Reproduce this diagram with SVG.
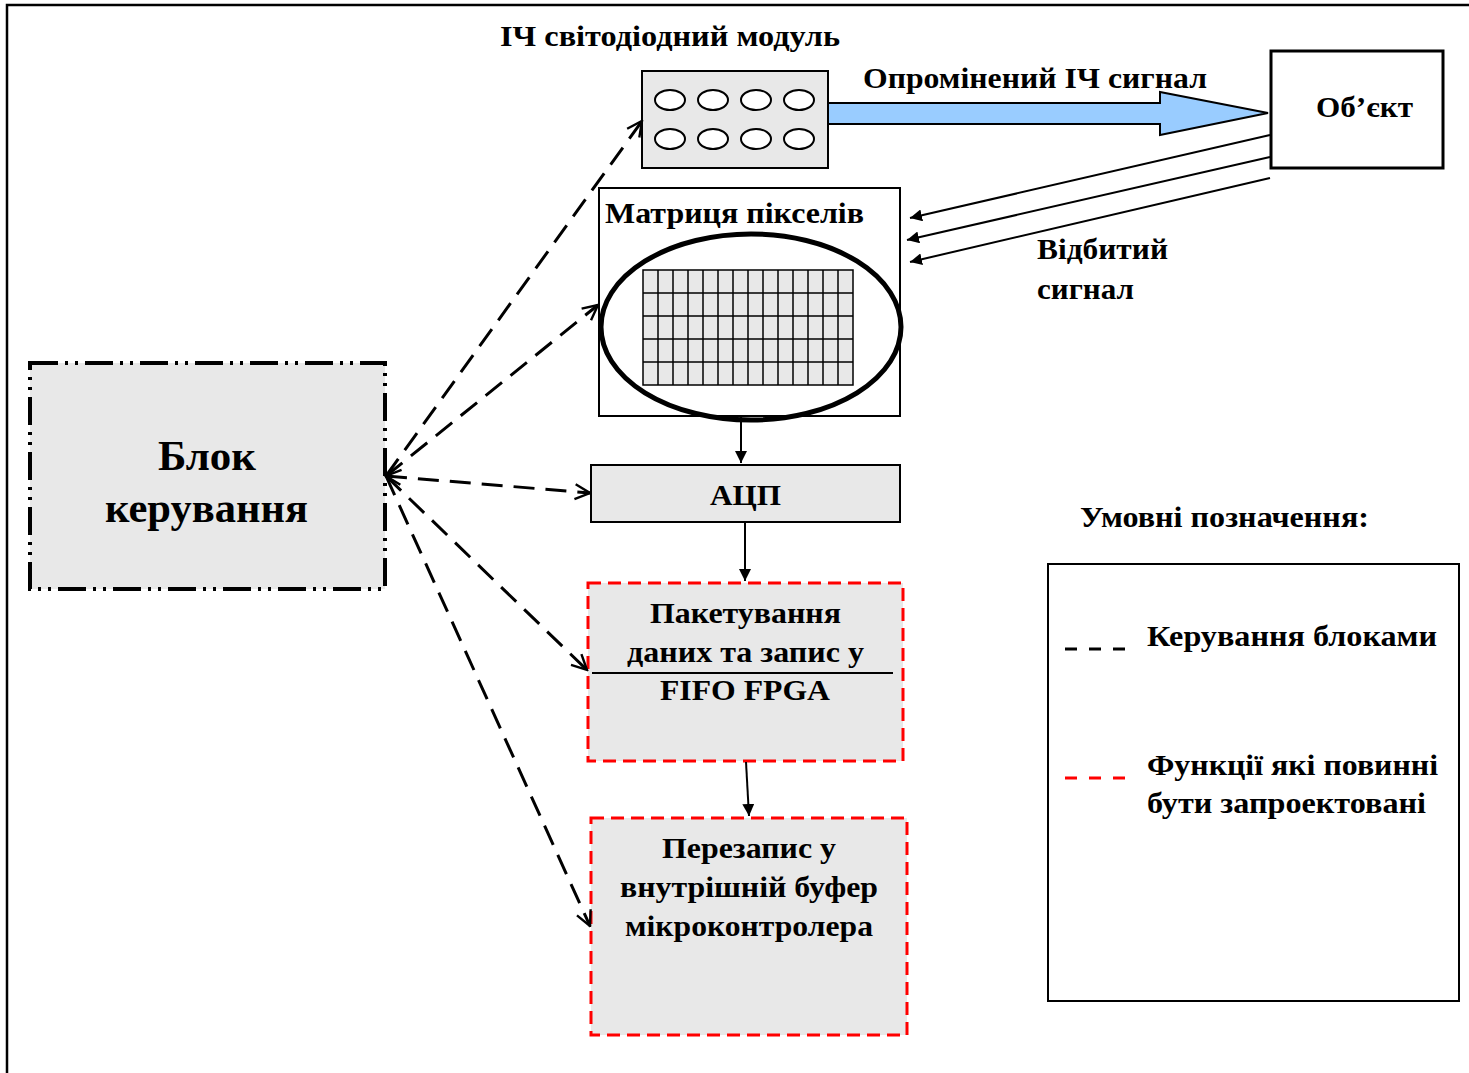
<svg xmlns="http://www.w3.org/2000/svg" width="1469" height="1073" viewBox="0 0 1469 1073">
<style>
  text { font-family: "Liberation Serif", "Times New Roman", serif; font-weight: bold; fill: #000; }
  .t28 { font-size: 29px; }
  .t42 { font-size: 42px; }
  .box { fill: #e8e8e8; stroke: #000; stroke-width: 2; }
  .red { fill: #e8e8e8; stroke: #ff0000; stroke-width: 3; stroke-dasharray: 13 7; }
  .ctl { fill: none; stroke: #000; stroke-width: 3; stroke-dasharray: 21 11; }
  .sol { fill: none; stroke: #000; stroke-width: 2; }
  .led { fill: #fff; stroke: #000; stroke-width: 2; }
</style>
<defs>
  <marker id="fill" viewBox="0 0 10 10" refX="10" refY="5" markerWidth="6" markerHeight="6" markerUnits="strokeWidth" orient="auto-start-reverse">
    <path d="M0,0 L10,5 L0,10 z" fill="#000"/>
  </marker>
  <marker id="open" viewBox="0 0 12 12" refX="11" refY="6" markerWidth="6" markerHeight="6" markerUnits="strokeWidth" orient="auto-start-reverse">
    <path d="M1,1 L11,6 L1,11" fill="none" stroke="#000" stroke-width="1.6"/>
  </marker>
</defs>
<rect width="1469" height="1073" fill="#fff"/>
<path d="M7,1073 V5 H1469" fill="none" stroke="#000" stroke-width="2.5"/>

<g id="led-module">
  <text class="t28" x="500" y="46" textLength="340" lengthAdjust="spacingAndGlyphs">ІЧ світодіодний модуль</text>
  <rect class="box" x="642" y="71" width="186" height="97"/>
  <ellipse class="led" cx="670" cy="100" rx="15" ry="10"/>
  <ellipse class="led" cx="713" cy="100" rx="15" ry="10"/>
  <ellipse class="led" cx="756" cy="100" rx="15" ry="10"/>
  <ellipse class="led" cx="799" cy="100" rx="15" ry="10"/>
  <ellipse class="led" cx="670" cy="139" rx="15" ry="10"/>
  <ellipse class="led" cx="713" cy="139" rx="15" ry="10"/>
  <ellipse class="led" cx="756" cy="139" rx="15" ry="10"/>
  <ellipse class="led" cx="799" cy="139" rx="15" ry="10"/>
</g>

<g id="object">
  <rect x="1271" y="51" width="172" height="117" fill="#fff" stroke="#000" stroke-width="3"/>
  <text class="t28" x="1316" y="117" textLength="97" lengthAdjust="spacingAndGlyphs">Об’єкт</text>
</g>

<g id="matrix">
  <rect x="599" y="188" width="301" height="228" fill="#fff" stroke="#000" stroke-width="2"/>
  <text class="t28" x="605" y="223" textLength="259" lengthAdjust="spacingAndGlyphs">Матриця пікселів</text>
  <rect x="643" y="270" width="210" height="115" fill="#e8e8e8" stroke="#000" stroke-width="1.5"/>
  <path d="M658,270V385M673,270V385M688,270V385M703,270V385M718,270V385M733,270V385M748,270V385M763,270V385M778,270V385M793,270V385M808,270V385M823,270V385M838,270V385M643,293H853M643,316H853M643,339H853M643,362H853" stroke="#000" stroke-width="1.5" fill="none"/>
  <ellipse cx="751" cy="327" rx="150" ry="93" fill="none" stroke="#000" stroke-width="5"/>
</g>

<g id="adc">
  <rect class="box" x="591" y="465" width="309" height="57"/>
  <text class="t28" x="710" y="505" textLength="71" lengthAdjust="spacingAndGlyphs">АЦП</text>
</g>

<g id="packing">
  <rect class="red" x="588" y="583" width="315" height="178"/>
  <text class="t28" x="650" y="623" textLength="191" lengthAdjust="spacingAndGlyphs">Пакетування</text>
  <text class="t28" x="627" y="662" textLength="237" lengthAdjust="spacingAndGlyphs">даних та запис у</text>
  <line x1="592" y1="673" x2="893" y2="673" stroke="#000" stroke-width="2"/>
  <text class="t28" x="660" y="700" textLength="170" lengthAdjust="spacingAndGlyphs">FIFO FPGA</text>
</g>

<g id="buffer">
  <rect class="red" x="591" y="818" width="316" height="217"/>
  <text class="t28" x="662" y="858" textLength="174" lengthAdjust="spacingAndGlyphs">Перезапис у</text>
  <text class="t28" x="620" y="897" textLength="258" lengthAdjust="spacingAndGlyphs">внутрішній буфер</text>
  <text class="t28" x="625" y="936" textLength="248" lengthAdjust="spacingAndGlyphs">мікроконтролера</text>
</g>

<g id="control">
  <rect x="30" y="363" width="355" height="226" fill="#e8e8e8" stroke="#000" stroke-width="4" stroke-dasharray="28 7 3 7 3 7"/>
  <text class="t42" x="158" y="470" textLength="98" lengthAdjust="spacingAndGlyphs">Блок</text>
  <text class="t42" x="105" y="522" textLength="203" lengthAdjust="spacingAndGlyphs">керування</text>
</g>

<g id="legend">
  <text class="t28" x="1080" y="527" textLength="289" lengthAdjust="spacingAndGlyphs">Умовні позначення:</text>
  <rect x="1048" y="564" width="411" height="437" fill="#fff" stroke="#000" stroke-width="2"/>
  <line x1="1065" y1="649" x2="1125" y2="649" stroke="#000" stroke-width="3" stroke-dasharray="12 12"/>
  <text class="t28" x="1147" y="646" textLength="290" lengthAdjust="spacingAndGlyphs">Керування блоками</text>
  <line x1="1065" y1="778" x2="1125" y2="778" stroke="#ff0000" stroke-width="3" stroke-dasharray="12 12"/>
  <text class="t28" x="1147" y="775" textLength="291" lengthAdjust="spacingAndGlyphs">Функції які повинні</text>
  <text class="t28" x="1147" y="813" textLength="279" lengthAdjust="spacingAndGlyphs">бути запроектовані</text>
</g>

<g id="connectors">
  <polygon points="828,103 1160,103 1160,92 1268,113 1160,135 1160,124 828,124" fill="#99ccff" stroke="#000" stroke-width="2"/>
  <text class="t28" x="863" y="88" textLength="344" lengthAdjust="spacingAndGlyphs">Опромінений ІЧ сигнал</text>
  <line class="sol" x1="1270" y1="135" x2="910" y2="218" marker-end="url(#fill)"/>
  <line class="sol" x1="1270" y1="157" x2="907" y2="240" marker-end="url(#fill)"/>
  <line class="sol" x1="1270" y1="178" x2="910" y2="262" marker-end="url(#fill)"/>
  <text class="t28" x="1037" y="259" textLength="131" lengthAdjust="spacingAndGlyphs">Відбитий</text>
  <text class="t28" x="1037" y="299" textLength="97" lengthAdjust="spacingAndGlyphs">сигнал</text>
  <line class="sol" x1="741" y1="417" x2="741" y2="463" marker-end="url(#fill)"/>
  <line class="sol" x1="745" y1="522" x2="745" y2="581" marker-end="url(#fill)"/>
  <line class="sol" x1="746" y1="762" x2="749" y2="816" marker-end="url(#fill)"/>
  <line class="ctl" x1="386" y1="476" x2="642" y2="121" marker-end="url(#open)"/>
  <line class="ctl" x1="386" y1="476" x2="598" y2="305" marker-end="url(#open)"/>
  <line class="ctl" x1="386" y1="476" x2="590" y2="493" marker-start="url(#open)" marker-end="url(#open)"/>
  <line class="ctl" x1="386" y1="476" x2="587" y2="670" marker-end="url(#open)"/>
  <line class="ctl" x1="386" y1="476" x2="590" y2="926" marker-end="url(#open)"/>
</g>
</svg>
